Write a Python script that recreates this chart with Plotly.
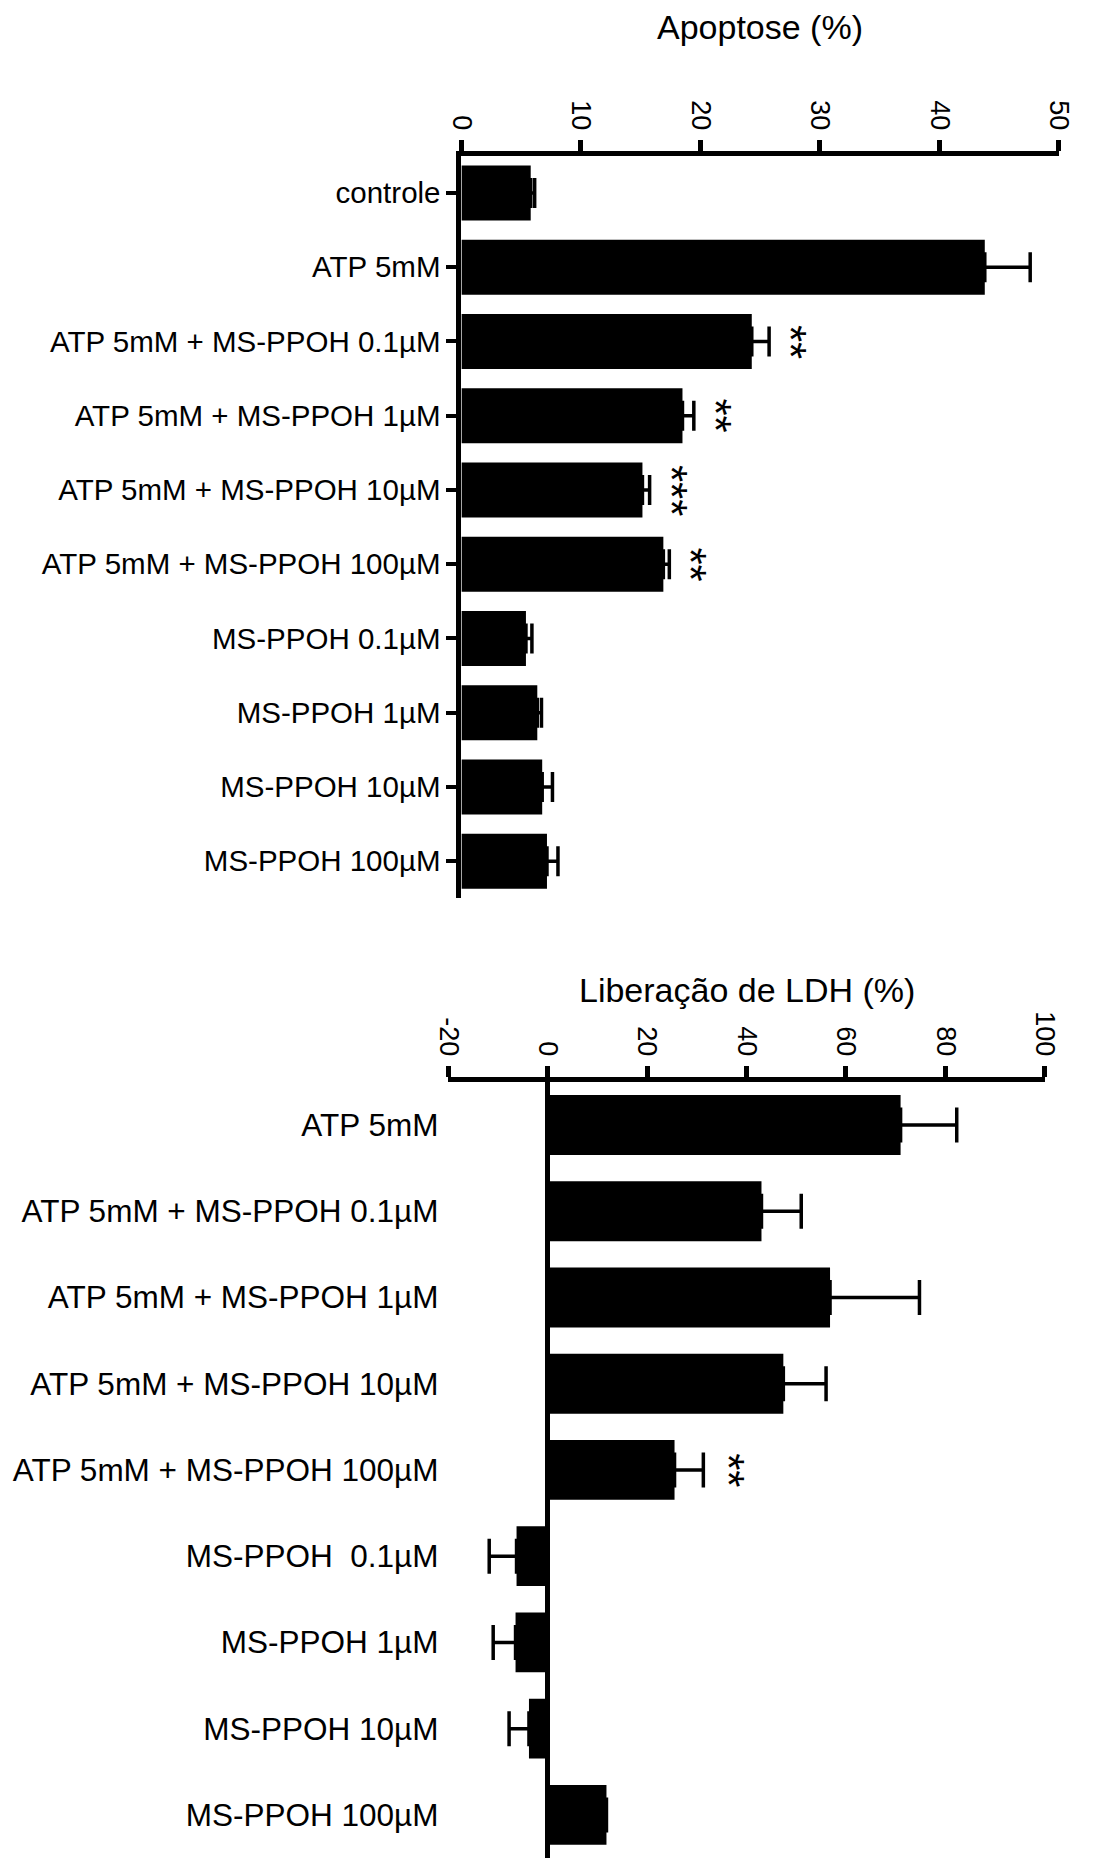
import plotly.graph_objects as go

# ---------------- data ----------------
apop_labels = ["controle", "ATP 5mM", "ATP 5mM + MS-PPOH 0.1µM", "ATP 5mM + MS-PPOH 1µM",
               "ATP 5mM + MS-PPOH 10µM", "ATP 5mM + MS-PPOH 100µM", "MS-PPOH 0.1µM",
               "MS-PPOH 1µM", "MS-PPOH 10µM", "MS-PPOH 100µM"]
apop_values = [5.8, 43.8, 24.3, 18.5, 15.15, 16.9, 5.4, 6.35, 6.76, 7.16]
apop_errors = [0.33, 3.8, 1.45, 0.95, 0.6, 0.5, 0.5, 0.35, 0.86, 0.92]
apop_sig = ["", "", "**", "**", "***", "**", "", "", "", ""]
apop_ticks = [0, 10, 20, 30, 40, 50]
apop_ticktext = ["0", "10", "20", "30", "40", "50"]

ldh_labels = ["ATP 5mM", "ATP 5mM + MS-PPOH 0.1µM", "ATP 5mM + MS-PPOH 1µM",
              "ATP 5mM + MS-PPOH 10µM", "ATP 5mM + MS-PPOH 100µM", "MS-PPOH\u00a0 0.1µM",
              "MS-PPOH 1µM", "MS-PPOH 10µM", "MS-PPOH 100µM"]
ldh_values = [71.0, 43.0, 56.8, 47.4, 25.5, -6.3, -6.5, -3.8, 11.8]
ldh_errors = [11.3, 8.0, 18.0, 8.6, 5.8, 5.5, 4.5, 4.0, 0.0]
ldh_sig = ["", "", "", "", "**", "", "", "", ""]
ldh_ticks = [-20, 0, 20, 40, 60, 80, 100]
ldh_ticktext = ["-20", "0", "20", "40", "60", "80", "100"]

# ---------------- layout geometry ----------------
W, H = 1094, 1858
FONT = "Liberation Sans, Arial, sans-serif"

def px(x):
    return x / W

def py(y):
    return 1 - y / H

top_x0, top_x1 = 459.0, 1073.3
top_y0, top_y1 = 155.8, 898.3
bot_x0, bot_x1 = 445.7, 1058.7
bot_y0, bot_y1 = 1081.8, 1858.0

fig = go.Figure()

fig.add_trace(go.Bar(
    x=apop_values, y=apop_labels, orientation="h", width=0.74,
    marker=dict(color="black", line=dict(width=0)),
    error_x=dict(type="data", array=apop_errors, arrayminus=[0] * len(apop_errors),
                 symmetric=False, color="black", thickness=3.5, width=15),
    xaxis="x", yaxis="y", showlegend=False,
))

ldh_plus = [e if v >= 0 else 0 for v, e in zip(ldh_values, ldh_errors)]
ldh_minus = [e if v < 0 else 0 for v, e in zip(ldh_values, ldh_errors)]
fig.add_trace(go.Bar(
    x=ldh_values, y=ldh_labels, orientation="h", width=0.695,
    marker=dict(color="black", line=dict(width=0)),
    error_x=dict(type="data", array=ldh_plus, arrayminus=ldh_minus,
                 symmetric=False, color="black", thickness=3.5, width=17.5),
    xaxis="x2", yaxis="y2", showlegend=False,
))

annotations = []
top_ppu = (top_x1 - top_x0) / 50.0
for lab, v, e, s in zip(apop_labels, apop_values, apop_errors, apop_sig):
    if s:
        annotations.append(dict(x=v + e + 22 / top_ppu, y=lab, xref="x", yref="y",
                                text=s, textangle=90, showarrow=False,
                                font=dict(family=FONT, size=44, color="black"),
                                xanchor="center", yanchor="middle"))
bot_ppu = (bot_x1 - bot_x0) / 120.0
for lab, v, e, s in zip(ldh_labels, ldh_values, ldh_errors, ldh_sig):
    if s:
        annotations.append(dict(x=v + e + 25 / bot_ppu, y=lab, xref="x2", yref="y2",
                                text=s, textangle=90, showarrow=False,
                                font=dict(family=FONT, size=44, color="black"),
                                xanchor="center", yanchor="middle"))

annotations.append(dict(x=px((top_x0 + top_x1) / 2), y=py(27), xref="paper", yref="paper",
                        text="Apoptose (%)", showarrow=False,
                        font=dict(family=FONT, size=34, color="black"),
                        xanchor="center", yanchor="middle"))
annotations.append(dict(x=px((bot_x0 + bot_x1) / 2), y=py(990), xref="paper", yref="paper",
                        text="Liberação de LDH (%)", showarrow=False,
                        font=dict(family=FONT, size=34, color="black"),
                        xanchor="center", yanchor="middle"))

axis_common = dict(showgrid=False, linecolor="black", linewidth=5,
                   ticks="outside", tickcolor="black", tickwidth=4.5, ticklen=11,
                   tickfont=dict(family=FONT, size=27, color="black"))

fig.update_layout(
    width=W, height=H, autosize=False,
    margin=dict(l=0, r=0, t=0, b=0),
    paper_bgcolor="white", plot_bgcolor="white",
    font=dict(family=FONT, color="black"),
    annotations=annotations,
    xaxis=dict(domain=[px(top_x0), px(top_x1)], anchor="y", side="top",
               range=[0, 50], tickvals=apop_ticks, ticktext=apop_ticktext, tickangle=90,
               showline=True, zeroline=False, **axis_common),
    yaxis=dict(domain=[py(top_y1), py(top_y0)], anchor="x",
               type="category", categoryorder="array", categoryarray=apop_labels,
               range=[len(apop_labels) - 0.5, -0.5],
               showline=True, showgrid=False, linecolor="black", linewidth=5,
               ticks="outside", tickcolor="black", tickwidth=4, ticklen=10,
               tickfont=dict(family=FONT, size=29.5, color="black")),
    xaxis2=dict(domain=[px(bot_x0), px(bot_x1)], anchor="y2", side="top",
                range=[-20, 100], tickvals=ldh_ticks, ticktext=ldh_ticktext, tickangle=90,
                showline=True, zeroline=True, zerolinecolor="black", zerolinewidth=5,
                **axis_common),
    yaxis2=dict(domain=[py(bot_y1), py(bot_y0)], anchor="x2",
                type="category", categoryorder="array", categoryarray=ldh_labels,
                range=[len(ldh_labels) - 0.5, -0.5],
                showline=False, showgrid=False, zeroline=False, ticks="",
                ticklabelstandoff=9,
                tickfont=dict(family=FONT, size=31.5, color="black")),
)

fig.write_html("out.html")
